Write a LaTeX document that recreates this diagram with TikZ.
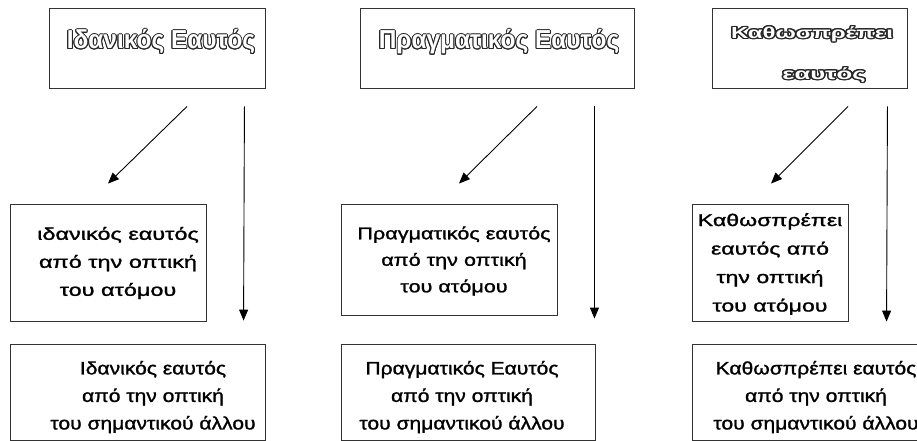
\documentclass[tikz,border=0pt]{standalone}
\usepackage{fontspec}
\setmainfont{Liberation Sans}
\newfontfamily\heavy[FakeBold=1.2]{Liberation Sans}
\usepackage{graphicx}
\usepackage{contour}
\usepackage{tikz}
\usetikzlibrary{calc, arrows.meta}
\contourlength{1pt}
\newcommand{\hollow}[1]{\contour{black!85}{\textcolor{white}{#1}}}

\begin{document}
\begin{tikzpicture}[x=1pt, y=-1pt,
  box/.style={draw=black!80, line width=0.9pt, inner sep=0pt},
  head/.style={inner sep=0pt, font=\fontsize{26}{30}\selectfont\bfseries},
  body/.style={inner sep=0pt, align=center},
  arr/.style={-{Triangle[length=11pt, width=9pt]}, line width=0.9pt}]
  \useasboundingbox (0,0) rectangle (917,441);
  \clip (0,0) rectangle (917,441);

  % top row
  \node[box, minimum width=216pt, minimum height=80pt] (t1) at (157,48) {};
  \node[box, minimum width=274pt, minimum height=80pt] (t2) at (497,48) {};
  \node[box, minimum width=195pt, minimum height=80pt] (t3) at (809.5,48) {};
  \node[head, anchor=base] (t1txt) at (161,49) {\scalebox{0.94}[1]{\hollow{Ιδανικός Εαυτός}}};
  \node[head, anchor=base] (t2txt) at (499,49) {\scalebox{0.94}[1]{\hollow{Πραγματικός Εαυτός}}};
  \node[body, font=\fontsize{16}{41}\selectfont\bfseries] (t3txt) at (812,55)
    {\scalebox{1.5}[1]{\hollow{Καθωσπρέπει}}\\\hspace*{24pt}\scalebox{1.6}[1]{\hollow{εαυτός}}};

  % middle row
  \node[box, minimum width=196pt, minimum height=117pt] (m1) at (108,262.5) {};
  \node[box, minimum width=216pt, minimum height=111pt] (m2) at (449,259.5) {};
  \node[box, minimum width=156pt, minimum height=117pt] (m3) at (770,262.5) {};
  \node[body, font=\fontsize{17}{28}\selectfont\heavy] (m1txt) at (118,263)
    {\scalebox{1.38}[1]{ιδανικός εαυτός}\\\scalebox{1.38}[1]{από την οπτική}\\\scalebox{1.38}[1]{του ατόμου}};
  \node[body, font=\fontsize{17}{26.5}\selectfont\heavy] (m2txt) at (454,261)
    {\scalebox{1.27}[1]{Πραγματικός εαυτός}\\\scalebox{1.27}[1]{από την οπτική}\\\scalebox{1.27}[1]{του ατόμου}};
  \node[body, font=\fontsize{17}{28.5}\selectfont\heavy] (m3txt) at (770,264)
    {\scalebox{1.36}[1]{Καθωσπρέπει}\\\scalebox{1.36}[1]{εαυτός από}\\\scalebox{1.36}[1]{την οπτική}\\\scalebox{1.36}[1]{του ατόμου}};

  % bottom row
  \node[box, minimum width=255pt, minimum height=96pt] (b1) at (137.5,392) {};
  \node[box, minimum width=254pt, minimum height=96pt] (b2) at (468,392) {};
  \node[box, minimum width=268pt, minimum height=96pt] (b3) at (826,392) {};
  \node[body, font=\fontsize{18}{27.5}\selectfont\heavy] (b1txt) at (153,397)
    {\scalebox{1.17}[1]{Ιδανικός εαυτός}\\\scalebox{1.17}[1]{από την οπτική}\\\scalebox{1.17}[1]{του σημαντικού άλλου}};
  \node[body, font=\fontsize{18}{27.5}\selectfont\heavy] (b2txt) at (462,397)
    {\scalebox{1.17}[1]{Πραγματικός Εαυτός}\\\scalebox{1.17}[1]{από την οπτική}\\\scalebox{1.17}[1]{του σημαντικού άλλου}};
  \node[body, font=\fontsize{18}{27.5}\selectfont\heavy] (b3txt) at (816,397)
    {\scalebox{1.17}[1]{Καθωσπρέπει εαυτός}\\\scalebox{1.17}[1]{από την οπτική}\\\scalebox{1.17}[1]{του σημαντικού άλλου}};

  % arrows
  \draw[arr] ($(t1.south)+(30,18)$) -- ($(m1.north)+(0,-20)$);
  \draw[arr] ($(t1.south east)+(-21,18)$) -- ($(b1.north west)+(234,-23)$);
  \draw[arr] ($(t2.south)+(40,18)$) -- ($(m2.north)+(10,-20)$);
  \draw[arr] ($(t2.south east)+(-40,18)$) -- ($(b2.north east)+(-1,-25)$);
  \draw[arr] ($(t3.south)+(38.5,18)$) -- ($(m3.north)+(1,-20)$);
  \draw[arr] ($(t3.south east)+(-20,18)$) -- ($(b3.north west)+(195,-22)$);
\end{tikzpicture}
\end{document}
